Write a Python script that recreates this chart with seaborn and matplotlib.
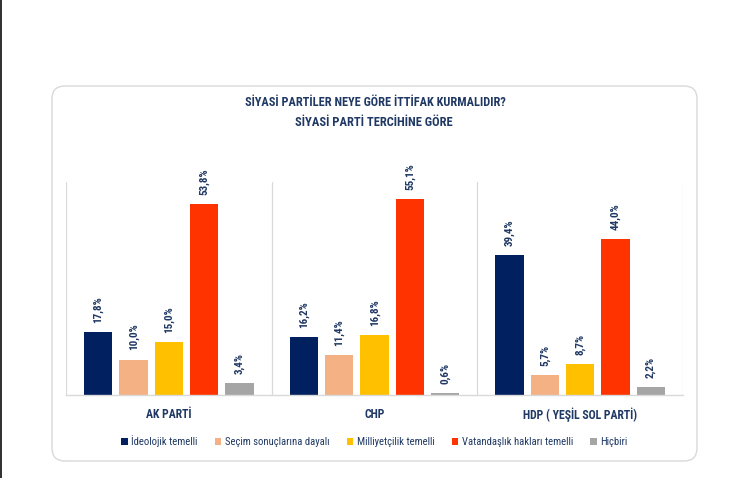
import matplotlib
matplotlib.use("Agg")
import matplotlib.pyplot as plt
import seaborn as sns
import pandas as pd
from matplotlib.patches import FancyBboxPatch, Rectangle
from matplotlib import font_manager

parties = ["AK PARTİ", "CHP", "HDP ( YEŞİL SOL PARTİ)"]
reasons = ["İdeolojik temelli", "Seçim sonuçlarına dayalı", "Milliyetçilik temelli",
           "Vatandaşlık hakları temelli", "Hiçbiri"]
ideolojik = [17.8, 16.2, 39.4]
secim = [10.0, 11.4, 5.7]
milliyetcilik = [15.0, 16.8, 8.7]
vatandaslik = [53.8, 55.1, 44.0]
hicbiri = [3.4, 0.6, 2.2]
colors = ["#002060", "#F4B183", "#FFC000", "#FF3300", "#A5A5A5"]

title1 = "SİYASİ PARTİLER NEYE GÖRE İTTİFAK KURMALIDIR?"
title2 = "SİYASİ PARTİ TERCİHİNE GÖRE"

series = [ideolojik, secim, milliyetcilik, vatandaslik, hicbiri]
rows = []
for r, vals in zip(reasons, series):
    for p, v in zip(parties, vals):
        rows.append({"party": p, "reason": r, "value": v})
df = pd.DataFrame(rows)

sns.set_theme(style="white")
ttf = font_manager.fontManager.ttflist
names = {f.name for f in ttf}
STRETCH = "normal"
FONT = ["DejaVu Sans"]
for cand in ["Liberation Sans Narrow", "Roboto Condensed", "Open Sans Condensed",
             "Noto Sans Condensed", "DejaVu Sans Condensed"]:
    if cand in names:
        FONT = [cand, "DejaVu Sans"]
        break
else:
    if any(f.name == "DejaVu Sans" and f.stretch == "condensed" for f in ttf):
        STRETCH = "condensed"
plt.rcParams["font.family"] = FONT
plt.rcParams["font.stretch"] = STRETCH
navy = "#1F3864"

fig = plt.figure(figsize=(7.47, 4.78), dpi=100)
fig.patch.set_facecolor("white")
renderer = fig.canvas.get_renderer()

# card
card = FancyBboxPatch((0.52, 0.17), 6.45, 3.75,
                      boxstyle="round,pad=0,rounding_size=0.13",
                      transform=fig.dpi_scale_trans, facecolor="white",
                      edgecolor="#D9D9D9", linewidth=1.0, zorder=-10)
fig.patches.append(card)
fig.patches.append(Rectangle((0, 0), 2 / 747, 1, transform=fig.transFigure,
                             facecolor="#333333", edgecolor="none", zorder=-10))

ax = fig.add_axes([66 / 747, 83 / 478, 617 / 747, 213 / 478])
ax.set_zorder(5)
ax.set_facecolor("none")
sns.barplot(data=df, x="party", y="value", hue="reason", hue_order=reasons,
            order=parties, palette=colors, width=0.86, gap=0.2,
            saturation=1, linewidth=0, ax=ax, legend=True)

ax.set_ylim(0, 60)
ax.set_xlim(-0.5, 2.5)
for xv in [-0.5, 0.5, 1.5, 2.5]:
    ax.axvline(xv, color="#D9D9D9", lw=0.9, zorder=0)
for s in ["top", "left", "right"]:
    ax.spines[s].set_visible(False)
ax.spines["bottom"].set_color("#D9D9D9")
ax.spines["bottom"].set_linewidth(1.0)
ax.set_yticks([])
ax.set_xlabel("")
ax.set_ylabel("")
ax.tick_params(axis="x", length=0, pad=9)
for t in ax.get_xticklabels():
    t.set_color(navy)
    t.set_fontsize(8.5)
    t.set_fontweight("bold")

for cont in ax.containers:
    for bar in cont:
        h = bar.get_height()
        ax.annotate(f"{h:.1f}".replace(".", ",") + "%",
                    (bar.get_x() + bar.get_width() / 2, h),
                    xytext=(0, 6.5), textcoords="offset points",
                    rotation=90, ha="center", va="bottom",
                    fontsize=8, fontweight="bold", color=navy)

leg = ax.legend(loc="upper center", bbox_to_anchor=(0.5, -0.17), ncol=5,
                frameon=False, fontsize=7.7, handlelength=0.6, handleheight=0.6,
                handletextpad=0.35, columnspacing=1.6, borderaxespad=0)
for t in leg.get_texts():
    t.set_color(navy)


def fitted_text(x, y, s, target_w, size0=10):
    t = fig.text(x, y, s, ha="center", va="center", fontsize=size0,
                 fontweight="bold", color=navy)
    w = t.get_window_extent(renderer).width
    t.set_fontsize(size0 * target_w / w)
    return t


fitted_text(375 / 747, 1 - 102 / 478, title1, 259)
fitted_text(374 / 747, 1 - 123 / 478, title2, 157)

fig.savefig("out.png", dpi=100, facecolor="white")
